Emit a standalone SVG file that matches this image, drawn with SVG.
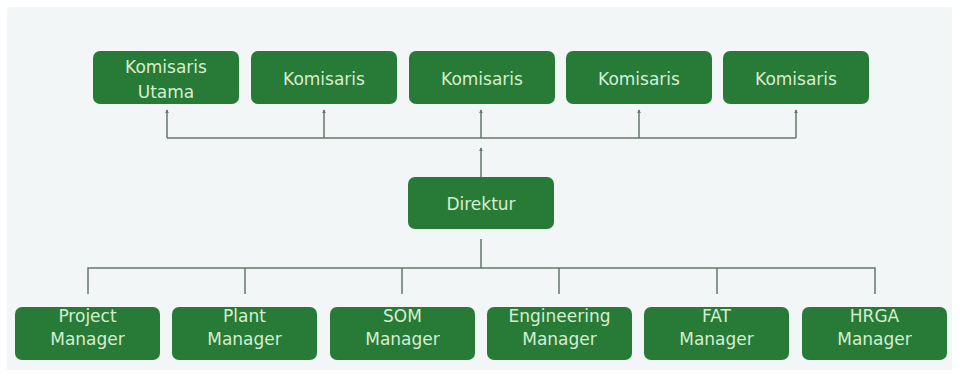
<svg xmlns="http://www.w3.org/2000/svg" width="960" height="376" viewBox="0 0 960 376">
<defs>
<style>
.box{fill:#287b37;}
.t{font-family:"DejaVu Sans","Liberation Sans",sans-serif;font-size:17px;fill:#d5eed0;text-anchor:middle;}
.ln{stroke:#66786b;stroke-width:1.5;fill:none;}
</style>
<marker id="ah" viewBox="0 0 6 6" refX="5" refY="3" markerWidth="4" markerHeight="4" orient="auto" markerUnits="userSpaceOnUse">
<path d="M0,0 L6,3 L0,6 Z" fill="#66786b"/>
</marker>
</defs>
<rect x="0" y="0" width="960" height="376" fill="#ffffff"/>
<rect x="7" y="7" width="945" height="363" fill="#f3f6f7"/>
<g id="connectors">
<path class="ln" d="M167,138 H796"/>
<path class="ln" d="M167,138 V110" marker-end="url(#ah)"/>
<path class="ln" d="M324,138 V110" marker-end="url(#ah)"/>
<path class="ln" d="M481,138 V110" marker-end="url(#ah)"/>
<path class="ln" d="M639,138 V110" marker-end="url(#ah)"/>
<path class="ln" d="M796,138 V110" marker-end="url(#ah)"/>
<path class="ln" d="M481,177 V148" marker-end="url(#ah)"/>
<path class="ln" d="M481,239 V268"/>
<path class="ln" d="M88,294 V268 H875 V294"/>
<path class="ln" d="M245,268 V294"/>
<path class="ln" d="M402,268 V294"/>
<path class="ln" d="M559,268 V294"/>
<path class="ln" d="M717,268 V294"/>
</g>
<g id="komisaris-utama"><rect class="box" x="93" y="51" width="146" height="53" rx="7"/><text class="t" x="166" y="73">Komisaris</text><text class="t" x="166" y="97.5">Utama</text></g>
<g id="komisaris-2"><rect class="box" x="251" y="51" width="146" height="53" rx="7"/><text class="t" x="324" y="84.5">Komisaris</text></g>
<g id="komisaris-3"><rect class="box" x="409" y="51" width="146" height="53" rx="7"/><text class="t" x="482" y="84.5">Komisaris</text></g>
<g id="komisaris-4"><rect class="box" x="566" y="51" width="146" height="53" rx="7"/><text class="t" x="639" y="84.5">Komisaris</text></g>
<g id="komisaris-5"><rect class="box" x="723" y="51" width="146" height="53" rx="7"/><text class="t" x="796" y="84.5">Komisaris</text></g>
<g id="direktur"><rect class="box" x="408" y="177" width="146" height="52" rx="7"/><text class="t" x="481" y="210">Direktur</text></g>
<g id="project-manager"><rect class="box" x="15" y="307" width="145" height="53" rx="7"/><text class="t" x="87.5" y="322">Project</text><text class="t" x="87.5" y="345">Manager</text></g>
<g id="plant-manager"><rect class="box" x="172" y="307" width="145" height="53" rx="7"/><text class="t" x="244.5" y="322">Plant</text><text class="t" x="244.5" y="345">Manager</text></g>
<g id="som-manager"><rect class="box" x="330" y="307" width="145" height="53" rx="7"/><text class="t" x="402.5" y="322">SOM</text><text class="t" x="402.5" y="345">Manager</text></g>
<g id="engineering-manager"><rect class="box" x="487" y="307" width="145" height="53" rx="7"/><text class="t" x="559.5" y="322">Engineering</text><text class="t" x="559.5" y="345">Manager</text></g>
<g id="fat-manager"><rect class="box" x="644" y="307" width="145" height="53" rx="7"/><text class="t" x="716.5" y="322">FAT</text><text class="t" x="716.5" y="345">Manager</text></g>
<g id="hrga-manager"><rect class="box" x="802" y="307" width="145" height="53" rx="7"/><text class="t" x="874.5" y="322">HRGA</text><text class="t" x="874.5" y="345">Manager</text></g>
</svg>
